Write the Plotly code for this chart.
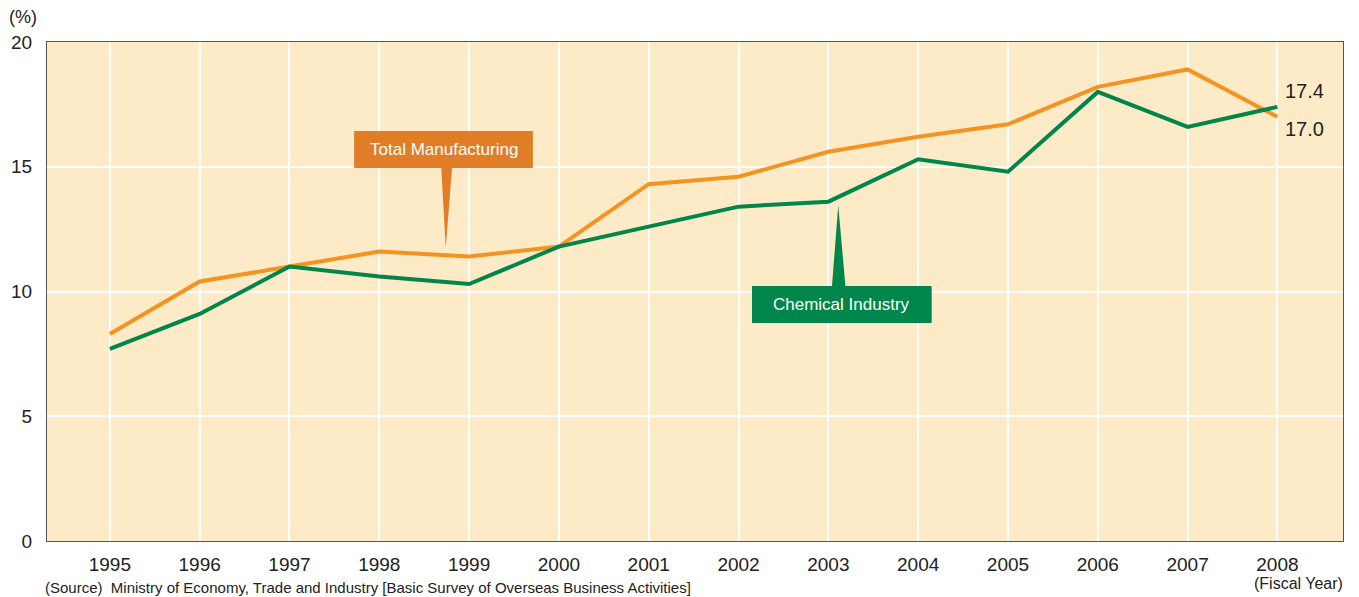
import plotly.graph_objects as go

years = [1995, 1996, 1997, 1998, 1999, 2000, 2001, 2002, 2003, 2004, 2005, 2006, 2007, 2008]
total_manufacturing = [8.3, 10.4, 11.0, 11.6, 11.4, 11.8, 14.3, 14.6, 15.6, 16.2, 16.7, 18.2, 18.9, 17.0]
chemical_industry = [7.7, 9.1, 11.0, 10.6, 10.3, 11.8, 12.6, 13.4, 13.6, 15.3, 14.8, 18.0, 16.6, 17.4]
y_ticks = [0, 5, 10, 15, 20]

ORANGE_LINE = "#F39422"
ORANGE_BOX = "#E07D26"
GREEN = "#00864A"
BG = "#FDEAC6"
SANS = "Liberation Sans, Arial, sans-serif"
TICK_FONT = dict(family=SANS, size=19, color="#222222")

fig = go.Figure()
fig.add_trace(go.Scatter(x=years, y=total_manufacturing, mode="lines",
                         line=dict(color=ORANGE_LINE, width=4), name="Total Manufacturing",
                         hoverinfo="x+y"))
fig.add_trace(go.Scatter(x=years, y=chemical_industry, mode="lines",
                         line=dict(color=GREEN, width=4), name="Chemical Industry",
                         hoverinfo="x+y"))

shapes = []
annotations = []

# Callout: Total Manufacturing (box with a pointer down to the line)
tm_box = (1997.72, 1999.71, 14.95, 16.43)
shapes.append(dict(type="rect", xref="x", yref="y", x0=tm_box[0], x1=tm_box[1], y0=tm_box[2], y1=tm_box[3],
                   fillcolor=ORANGE_BOX, line=dict(width=0), layer="above"))
shapes.append(dict(type="path", xref="x", yref="y",
                   path="M 1998.69 14.96 L 1998.81 14.96 L 1998.74 11.75 Z",
                   fillcolor=ORANGE_BOX, line=dict(width=0), layer="above"))
annotations.append(dict(x=(tm_box[0] + tm_box[1]) / 2, y=(tm_box[2] + tm_box[3]) / 2, xref="x", yref="y",
                        text="Total Manufacturing", showarrow=False,
                        font=dict(family=SANS, size=17, color="white")))

# Callout: Chemical Industry (box with a pointer up to the line)
ci_box = (2002.15, 2004.15, 8.74, 10.22)
shapes.append(dict(type="rect", xref="x", yref="y", x0=ci_box[0], x1=ci_box[1], y0=ci_box[2], y1=ci_box[3],
                   fillcolor=GREEN, line=dict(width=0), layer="above"))
shapes.append(dict(type="path", xref="x", yref="y",
                   path="M 2003.04 10.21 L 2003.19 10.21 L 2003.11 13.45 Z",
                   fillcolor=GREEN, line=dict(width=0), layer="above"))
annotations.append(dict(x=(ci_box[0] + ci_box[1]) / 2, y=(ci_box[2] + ci_box[3]) / 2, xref="x", yref="y",
                        text="Chemical Industry", showarrow=False,
                        font=dict(family=SANS, size=17, color="white")))

# End-of-line value labels
annotations.append(dict(x=years[-1], y=chemical_industry[-1], xref="x", yref="y",
                        text=f"{chemical_industry[-1]:.1f}", showarrow=False, xanchor="left",
                        xshift=6, yshift=16, font=dict(family=SANS, size=20, color="#222222")))
annotations.append(dict(x=years[-1], y=total_manufacturing[-1], xref="x", yref="y",
                        text=f"{total_manufacturing[-1]:.1f}", showarrow=False, xanchor="left",
                        xshift=6, yshift=-12, font=dict(family=SANS, size=20, color="#222222")))

# Axis captions and source
annotations.append(dict(x=1994.3, y=1, xref="x", yref="paper", yanchor="middle", xanchor="center",
                        xshift=-24, yshift=25,
                        text="(%)", showarrow=False, font=dict(family=SANS, size=18, color="#222222")))
annotations.append(dict(x=2008.24, y=0, xref="x", yref="paper", yanchor="top", xanchor="center", yshift=-32,
                        text="(Fiscal Year)", showarrow=False, font=dict(family=SANS, size=16, color="#222222")))
annotations.append(dict(x=1994.3, y=0, xref="x", yref="paper", yanchor="top", xanchor="left", yshift=-36, xshift=-4,
                        text="(Source)  Ministry of Economy, Trade and Industry [Basic Survey of Overseas Business Activities]",
                        showarrow=False, font=dict(family=SANS, size=15, color="#222222")))

fig.update_layout(
    width=1359, height=597,
    margin=dict(l=47, r=16, t=42, b=56),
    paper_bgcolor="white",
    plot_bgcolor=BG,
    showlegend=False,
    shapes=shapes,
    annotations=annotations,
    xaxis=dict(range=[1994.3, 2008.73], tickmode="array", tickvals=years, ticktext=[str(y) for y in years],
               showgrid=True, gridcolor="white", gridwidth=1.5, zeroline=False,
               showline=True, linecolor="#555555", linewidth=1, mirror=True, ticks="",
               tickfont=TICK_FONT, ticklabelstandoff=6, fixedrange=True),
    yaxis=dict(range=[0, 20], tickmode="array", tickvals=y_ticks, ticktext=[str(v) for v in y_ticks],
               showgrid=True, gridcolor="white", gridwidth=1.5, zeroline=False,
               showline=True, linecolor="#555555", linewidth=1, mirror=True, ticks="",
               tickfont=TICK_FONT, ticklabelstandoff=10, fixedrange=True),
)

fig.write_html("out.html")
